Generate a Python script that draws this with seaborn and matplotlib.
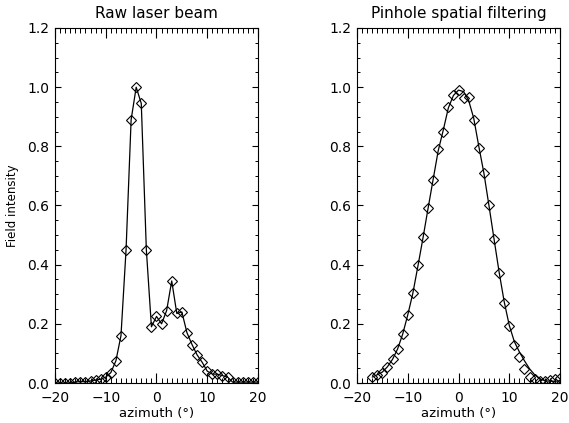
import numpy as np
import pandas as pd
import matplotlib
matplotlib.use("Agg")
import matplotlib.pyplot as plt
import seaborn as sns
from matplotlib.ticker import MultipleLocator

# =====================================================
# DATA
# =====================================================
raw_azimuth = list(range(-20, 21))
raw_intensity = [
    0.0, 0.0, 0.0, 0.0, 0.003, 0.005, 0.004, 0.007, 0.01, 0.013,
    0.02, 0.035, 0.075, 0.16, 0.45, 0.89, 1.0, 0.945, 0.45, 0.19,
    0.225, 0.2, 0.245, 0.345, 0.235, 0.24, 0.17, 0.13, 0.095, 0.07,
    0.04, 0.03, 0.03, 0.025, 0.02, 0.003, 0.003, 0.003, 0.003, 0.003,
    0.003,
]

pin_azimuth = list(range(-17, 21))
pin_intensity = [
    0.021, 0.027, 0.035, 0.055, 0.08, 0.114, 0.165, 0.231, 0.303, 0.40,
    0.493, 0.59, 0.687, 0.79, 0.848, 0.934, 0.975, 0.99, 0.964, 0.968,
    0.888, 0.796, 0.711, 0.602, 0.487, 0.372, 0.27, 0.193, 0.127, 0.089,
    0.046, 0.021, 0.013, 0.008, 0.008, 0.01, 0.013, 0.016,
]

# fitted curve through the filtered beam
fit_azimuth = list(range(-17, 21))
fit_intensity = [
    0.02, 0.028, 0.037, 0.055, 0.08, 0.115, 0.165, 0.23, 0.303, 0.395,
    0.49, 0.59, 0.688, 0.785, 0.855, 0.93, 0.972, 0.99, 0.985, 0.955,
    0.895, 0.80, 0.71, 0.60, 0.487, 0.375, 0.275, 0.195, 0.14, 0.105,
    0.075, 0.048, 0.028, 0.014, 0.008, 0.006, 0.006, 0.007,
]

titles = ["Raw laser beam", "Pinhole spatial filtering"]
xlabel = "azimuth (°)"
ylabel = "Field intensity"

# =====================================================
# STYLE
# =====================================================
sns.set_style("ticks")
plt.rcParams["font.family"] = ["DejaVu Sans"]
plt.rcParams["axes.linewidth"] = 0.8
plt.rcParams["axes.unicode_minus"] = True
plt.rcParams["text.color"] = "black"
plt.rcParams["axes.labelcolor"] = "black"
plt.rcParams["xtick.color"] = "black"
plt.rcParams["ytick.color"] = "black"

fig = plt.figure(figsize=(5.69, 4.23), dpi=100)
ax1 = fig.add_axes([55 / 569, 40 / 423, 203 / 569, 355 / 423])
ax2 = fig.add_axes([357 / 569, 40 / 423, 203 / 569, 355 / 423])

# =====================================================
# LEFT: RAW BEAM
# =====================================================
raw_df = pd.DataFrame({"azimuth": raw_azimuth, "intensity": raw_intensity})
sns.lineplot(data=raw_df, x="azimuth", y="intensity", ax=ax1,
             color="black", linewidth=0.9, marker="D", markersize=5,
             markerfacecolor="none", markeredgecolor="black",
             markeredgewidth=0.8, sort=False, estimator=None)

# =====================================================
# RIGHT: PINHOLE FILTERED
# =====================================================
fit_df = pd.DataFrame({"azimuth": fit_azimuth, "intensity": fit_intensity})
pin_df = pd.DataFrame({"azimuth": pin_azimuth, "intensity": pin_intensity})
sns.lineplot(data=fit_df, x="azimuth", y="intensity", ax=ax2,
             color="black", linewidth=0.9, sort=False, estimator=None)
sns.lineplot(data=pin_df, x="azimuth", y="intensity", ax=ax2,
             color="black", linestyle="", marker="D", markersize=5,
             markerfacecolor="none", markeredgecolor="black",
             markeredgewidth=0.8, sort=False, estimator=None)

# =====================================================
# AXES (IDL look: inward ticks on all sides)
# =====================================================
for ax, title in zip([ax1, ax2], titles):
    ax.set_xlim(-20, 20)
    ax.set_ylim(0, 1.2)
    ax.xaxis.set_major_locator(MultipleLocator(10))
    ax.xaxis.set_minor_locator(MultipleLocator(1))
    ax.yaxis.set_major_locator(MultipleLocator(0.2))
    ax.yaxis.set_minor_locator(MultipleLocator(0.05))
    ax.yaxis.set_major_formatter(plt.FormatStrFormatter("%.1f"))
    ax.tick_params(axis="x", which="major", direction="in", length=7,
                   width=0.8, top=True, bottom=True, labelsize=10, pad=6)
    ax.tick_params(axis="x", which="minor", direction="in", length=3.5,
                   width=0.7, top=True, bottom=True)
    ax.tick_params(axis="y", which="major", direction="in", length=4,
                   width=0.8, left=True, right=True, labelsize=10, pad=4)
    ax.tick_params(axis="y", which="minor", direction="in", length=2,
                   width=0.7, left=True, right=True)
    for sp in ax.spines.values():
        sp.set_visible(True)
        sp.set_color("black")
    ax.set_title(title, fontsize=11, pad=7, color="black")
    ax.set_xlabel(xlabel, fontsize=9.5, labelpad=1)
    ax.set_ylabel("")

ax1.set_ylabel(ylabel, fontsize=8.5, labelpad=6)

plt.savefig("out.png", dpi=100)
